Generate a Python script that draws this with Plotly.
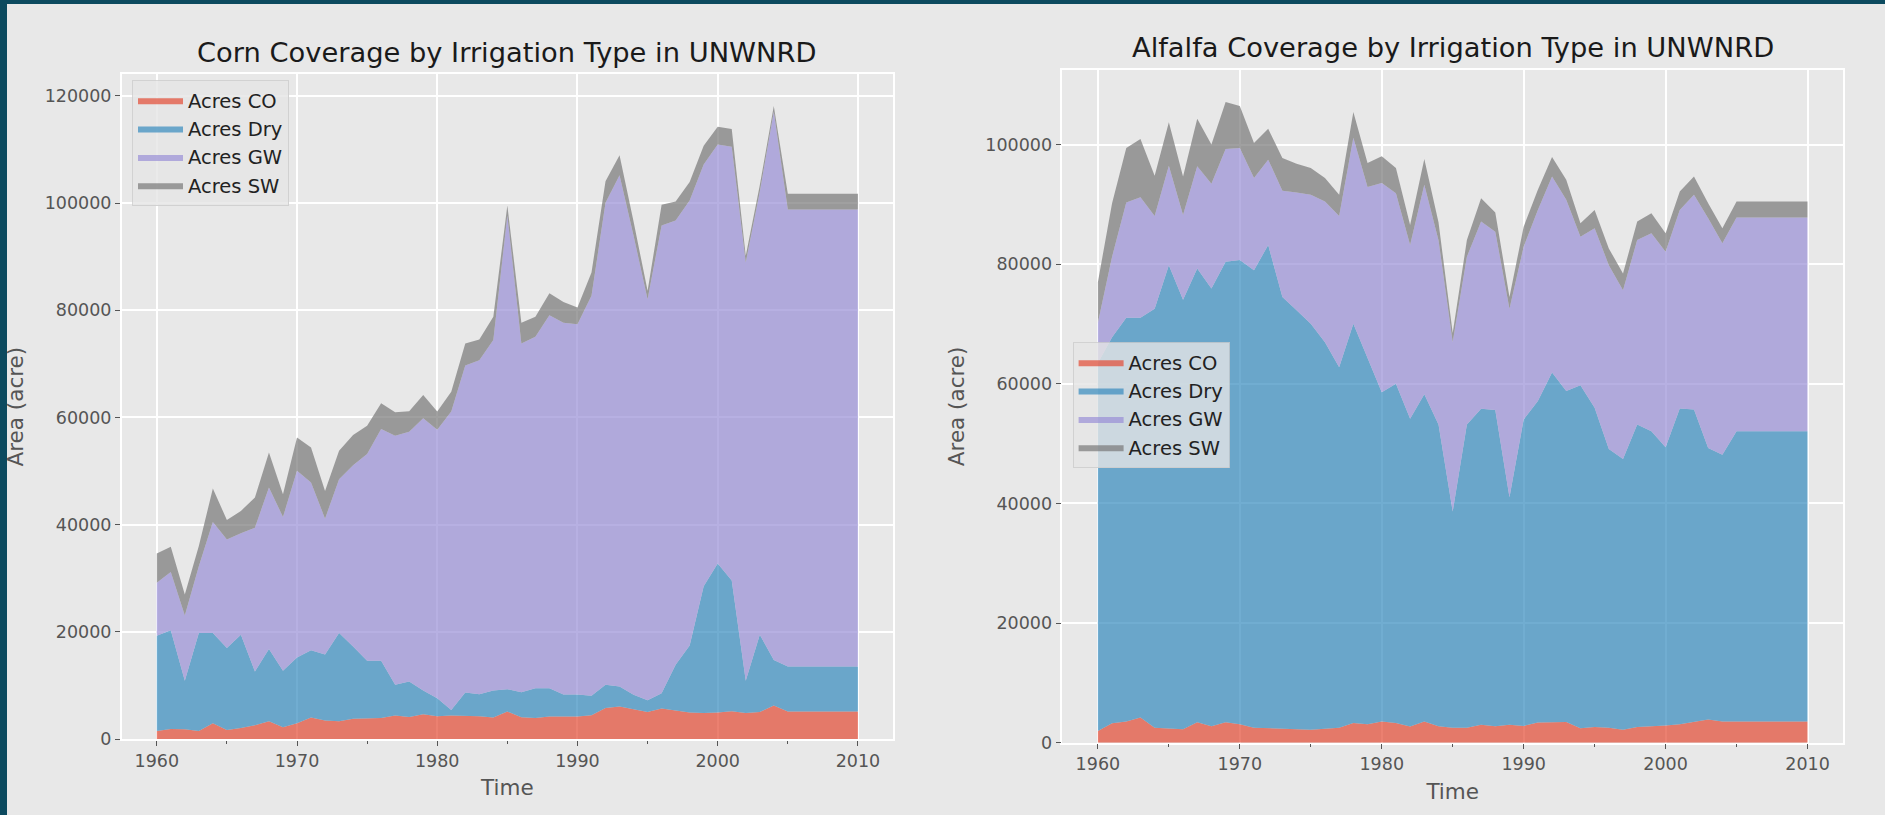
import plotly.graph_objects as go

# years: annual to 2005, then 2010
years = list(range(1960, 2006)) + [2010]

# Corn (acres)
corn_co = [1500, 1870, 1800, 1500, 2930, 1680, 2060, 2560, 3300, 2180,
           2930, 4000, 3430, 3300, 3800, 3930, 3930, 4370, 4120, 4620,
           4240, 4370, 4300, 4240, 4000, 5120, 4060, 3930, 4180, 4180,
           4180, 4430, 5800, 6050, 5550, 5050, 5680, 5370, 4930, 4870,
           4930, 5180, 4870, 5050, 6240, 5120, 5120]
corn_dry = [17780, 18410, 9060, 18280, 16850, 15290, 17410, 10040, 13490, 10550,
            12300, 12540, 12360, 16480, 13480, 10670, 10670, 5740, 6610, 4430,
            3370, 1060, 4370, 4120, 5050, 4180, 4680, 5550, 5300, 4120,
            4120, 3620, 4310, 3750, 2690, 2190, 2870, 8480, 12540, 23650,
            27830, 24400, 5990, 14420, 8490, 8420, 8420]
corn_gw = [9860, 10860, 12170, 12460, 20720, 20280, 18910, 26840, 30140, 28700,
           34820, 31320, 25330, 28700, 33820, 38570, 43250, 46490, 46620, 50790,
           50080, 55700, 61020, 62330, 65390, 88390, 65070, 65580, 69580, 69390,
           69080, 74640, 89950, 95390, 85660, 74820, 87260, 82900, 83030, 78670,
           78180, 80920, 78080, 82590, 102330, 85270, 85270]
corn_sw = [5490, 4740, 3930, 3760, 6240, 3620, 4180, 5610, 6550, 4250,
           6230, 6550, 5180, 5310, 5620, 5300, 4800, 4360, 3800, 4370,
           3440, 3670, 4120, 3870, 4370, 1870, 3880, 3750, 4130, 3870,
           3120, 4370, 4000, 3750, 2660, 1570, 3880, 3560, 3440, 3500,
           3310, 3310, 1250, 1250, 1070, 2940, 2940]

# Alfalfa (acres)
alf_co = [1960, 3250, 3530, 4200, 2520, 2410, 2240, 3420, 2740, 3420,
          3080, 2520, 2410, 2410, 2180, 2180, 2350, 2520, 3300, 3080,
          3530, 3300, 2690, 3530, 2740, 2520, 2520, 3020, 2740, 3020,
          2800, 3360, 3420, 3470, 2410, 2630, 2520, 2180, 2630, 2690,
          2860, 3080, 3530, 3860, 3530, 3530, 3530]
alf_dry = [61540, 64550, 67520, 66850, 70040, 77430, 71830, 75860, 73180, 76980,
           77600, 76480, 80790, 72110, 70100, 67860, 64610, 60240, 66740, 61360,
           55070, 56700, 51460, 54710, 50460, 36120, 50680, 52810, 52870, 38030,
           51240, 53760, 58460, 55330, 57340, 53370, 46590, 45250, 50570, 49390,
           46530, 52810, 52190, 45420, 44630, 48550, 48550]
alf_gw = [6700, 13440, 19260, 20160, 15510, 16630, 14170, 17080, 17530, 18870,
          18760, 15400, 14280, 17750, 19710, 21560, 23520, 25310, 31080, 28450,
          34960, 31880, 29050, 35040, 30800, 28360, 28040, 31290, 29830, 31510,
          28880, 31960, 32800, 31960, 24850, 30000, 30730, 28210, 30840, 33080,
          32690, 33190, 35880, 38400, 35320, 35710, 35710]
alf_sw = [6800, 8960, 9130, 9740, 6720, 7280, 6440, 7950, 6550, 7840,
          7000, 5880, 5150, 5490, 4820, 4480, 3920, 3530, 4310, 4030,
          4480, 4200, 3360, 4310, 3000, 1500, 2800, 3920, 3190, 1960,
          3360, 3360, 3250, 3360, 2240, 3080, 2800, 2800, 3080, 3360,
          3080, 3080, 3080, 2520, 2520, 2690, 2690]

names = ["Acres CO", "Acres Dry", "Acres GW", "Acres SW"]
colors = ["rgba(226,74,51,0.7)", "rgba(52,138,189,0.7)",
          "rgba(152,142,213,0.7)", "rgba(119,119,119,0.7)"]

W, H = 1885, 815
FONT = "DejaVu Sans"
FRAME = "#0c4a5f"


def px(x):
    return x / W


def py(y):
    return 1 - y / H


fig = go.Figure()

panels = [
    ([corn_co, corn_dry, corn_gw, corn_sw], "x", "y", "legend", "corn"),
    ([alf_co, alf_dry, alf_gw, alf_sw], "x2", "y2", "legend2", "alf"),
]
for series, xa, ya, leg, grp in panels:
    for name, vals, col in zip(names, series, colors):
        fig.add_trace(go.Scatter(
            x=years, y=vals, name=name, mode="lines",
            stackgroup=grp, fillcolor=col,
            line=dict(width=0, color=col),
            xaxis=xa, yaxis=ya, legend=leg, legendgroup=grp + name,
        ))

corn_max = max(a + b + c + d for a, b, c, d in zip(corn_co, corn_dry, corn_gw, corn_sw))
alf_max = max(a + b + c + d for a, b, c, d in zip(alf_co, alf_dry, alf_gw, alf_sw))

tickfont = dict(family=FONT, size=17.5, color="#555555")
labfont = dict(family=FONT, size=21.5, color="#555555")


def xax(domain, anchor):
    return dict(
        domain=domain, anchor=anchor, range=[1957.5, 2012.5],
        tick0=1960, dtick=10, ticks="outside", ticklen=5, tickwidth=1,
        tickcolor="#555555", tickfont=tickfont,
        showgrid=True, gridcolor="white", gridwidth=1.5,
        showline=True, linecolor="white", linewidth=1.5, mirror=True,
        zeroline=False,
        minor=dict(dtick=5, tick0=1960, ticks="outside", ticklen=3,
                   tickcolor="#555555", showgrid=False),
        title=dict(text="Time", font=labfont, standoff=10),
        automargin=False,
    )


def yax(domain, anchor, top):
    return dict(
        domain=domain, anchor=anchor, range=[0, top * 1.05],
        tick0=0, dtick=20000, tickformat="d",
        ticks="outside", ticklen=5, tickwidth=1, tickcolor="#555555",
        tickfont=tickfont,
        showgrid=True, gridcolor="white", gridwidth=1.5,
        showline=True, linecolor="white", linewidth=1.5, mirror=True,
        zeroline=False,
        title=dict(text="Area (acre)", font=labfont, standoff=15),
        automargin=False,
    )


legstyle = dict(
    bgcolor="rgba(229,229,229,0.8)", bordercolor="rgba(204,204,204,0.8)",
    borderwidth=1, font=dict(family=FONT, size=19.5, color="#222222"),
    traceorder="normal", xanchor="left", yanchor="top",
    itemwidth=45, tracegroupgap=3,
)

fig.update_layout(
    width=W, height=H,
    margin=dict(l=0, r=0, t=0, b=0),
    paper_bgcolor=FRAME,
    plot_bgcolor="#e5e5e5",
    font=dict(family=FONT),
    xaxis=xax([px(121.7), px(893)], "y"),
    yaxis=yax([py(739), py(74.3)], "x", corn_max),
    xaxis2=xax([px(1062.4), px(1843)], "y2"),
    yaxis2=yax([py(742.7), py(70)], "x2", alf_max),
    legend=dict(x=px(132), y=py(80), **legstyle),
    legend2=dict(x=px(1072.6), y=py(342), **legstyle),
    # light canvas inside the dark notebook frame (left and top strips)
    shapes=[dict(type="rect", xref="paper", yref="paper",
                 x0=px(7), x1=1, y0=0, y1=py(4),
                 fillcolor="#e8e8e8", line=dict(width=0), layer="below")],
    annotations=[
        dict(text="Corn Coverage by Irrigation Type in UNWNRD",
             x=px(507), y=py(53), xref="paper", yref="paper",
             xanchor="center", yanchor="middle", showarrow=False,
             font=dict(family=FONT, size=27.3, color="#1a1a1a")),
        dict(text="Alfalfa Coverage by Irrigation Type in UNWNRD",
             x=px(1452.5), y=py(48), xref="paper", yref="paper",
             xanchor="center", yanchor="middle", showarrow=False,
             font=dict(family=FONT, size=27.3, color="#1a1a1a")),
    ],
    showlegend=True,
)

fig.write_html(
    "out.html",
    config={"displayModeBar": False},
    post_script="document.body.style.margin='0px';"
                "document.body.style.background='" + FRAME + "';",
)
